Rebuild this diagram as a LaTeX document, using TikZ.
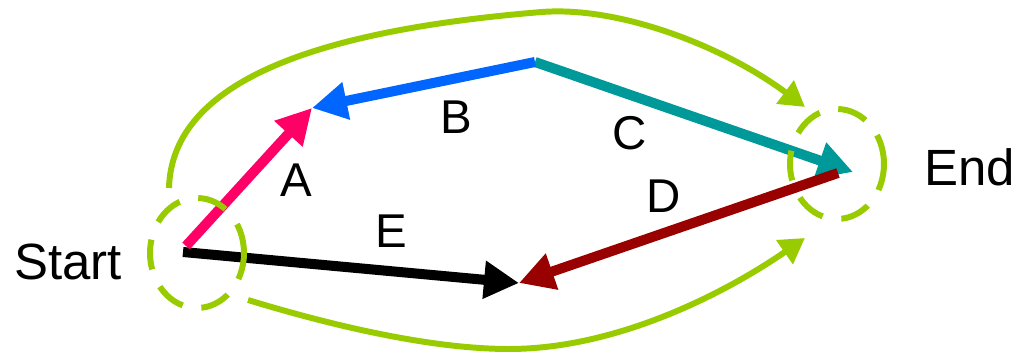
\documentclass[tikz,border=0pt]{standalone}
\usepackage{fontspec}
\setmainfont{Liberation Sans}
\usetikzlibrary{arrows.meta,shapes.geometric}

\definecolor{pinkline}{HTML}{FF0066}
\definecolor{blueline}{HTML}{0066FF}
\definecolor{tealline}{HTML}{009999}
\definecolor{redline}{HTML}{990000}
\definecolor{loopgreen}{HTML}{99CC00}

\begin{document}
\begin{tikzpicture}[x=0.02cm,y=-0.02cm,
  dashed ring/.style={ellipse,draw=loopgreen,line width=3.4pt,dash pattern=on 0.6cm off 0.38cm,
    minimum width=1.88cm,minimum height=2.2cm,inner sep=0pt},
  path arrow/.style={line width=5.7pt,-{Triangle[length=0.7cm,width=0.72cm]}},
  loop arrow/.style={draw=loopgreen,line width=3.4pt,-{Triangle[length=0.5cm,width=0.56cm]}},
  end label/.style={font=\fontsize{29}{32}\selectfont,inner sep=0pt},
  step label/.style={font=\fontsize{27}{30}\selectfont,inner sep=0pt}]
\useasboundingbox (0,0) rectangle (1018,354); % keeps the margins

% corner points of the routes
\coordinate (start a) at (186,246);
\coordinate (start e) at (183,252);
\coordinate (apex) at (312,108);
\coordinate (top) at (535,62);
\coordinate (goal) at (853,172);
\coordinate (back) at (838,173);
\coordinate (meet) at (519,283);
\coordinate (loop out) at (169,188);
\coordinate (loop in) at (805,107);
\coordinate (low out) at (248,300);
\coordinate (low in) at (805,238);

% the two ends
\node [end label] (start text) at (68,262) {Start};
\node [end label] (end text) at (970,167) {End};

% green loops round the outside
\draw [loop arrow] (loop out) .. controls (172,80) and (320,30) .. (542,12)
  .. controls (620,6) and (725,47) .. (loop in);
\draw [loop arrow] (low out) .. controls (330,325) and (430,349) .. (509,349)
  .. controls (620,349) and (730,290) .. (low in);

% the routes
\draw [path arrow,black] (start e) -- (meet);
\draw [path arrow,pinkline] (start a) -- (apex);
\draw [path arrow,tealline] (top) -- (goal);
\draw [path arrow,blueline] (top) -- (apex);
\draw [path arrow,redline] (back) -- (meet);

\node [step label] (label a) at (296,180) {A};
\node [step label] (label b) at (456,117) {B};
\node [step label] (label c) at (630,133) {C};
\node [step label] (label d) at (664,196) {D};
\node [step label] (label e) at (391,231) {E};

% dashed rings go on top
\node [dashed ring] (start ring) at (197,253) {};
\node [dashed ring] (end ring) at (837,164) {};
\end{tikzpicture}
\end{document}
